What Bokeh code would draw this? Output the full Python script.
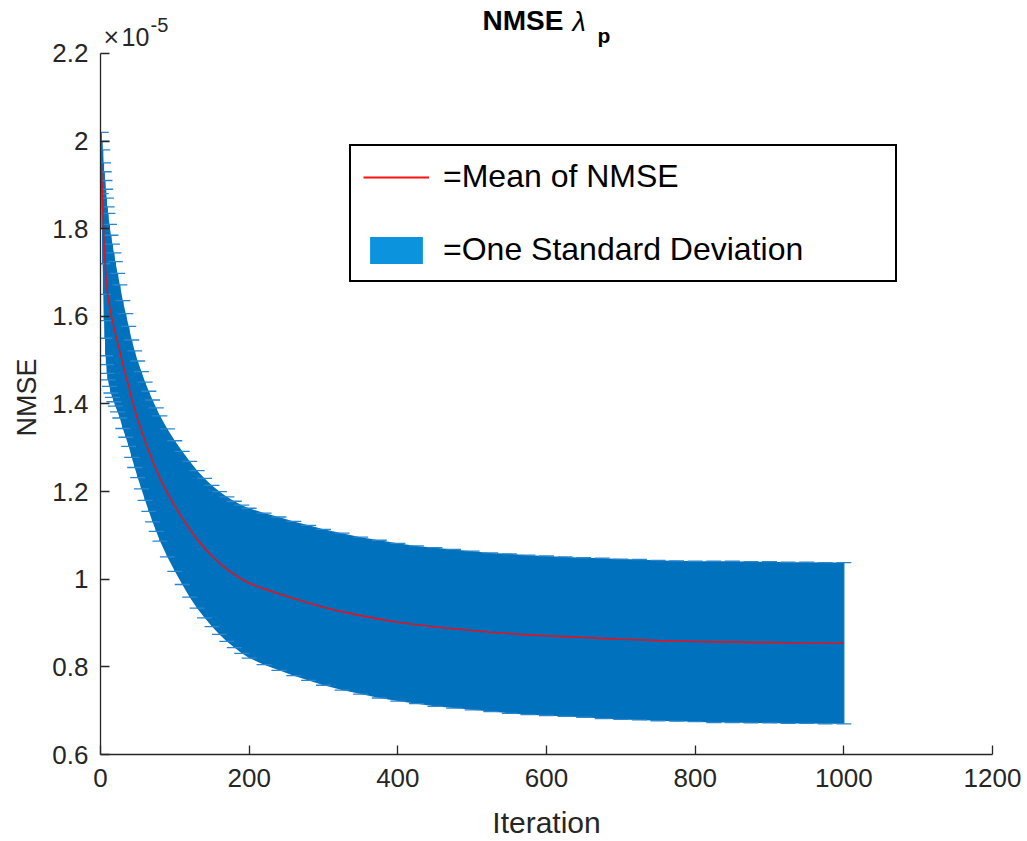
from bokeh.plotting import figure
from bokeh.models import Range1d, FixedTicker, NumeralTickFormatter, Label, Legend, LegendItem, Title
from bokeh.core.properties import value
from bokeh.embed import file_html
from bokeh.resources import INLINE

# ---- data (NMSE in units of 1e-5) ----
iterations = [1, 2, 3, 4, 5, 6, 7, 8, 9, 10, 12, 14, 16, 18, 20, 23, 26, 30, 34, 38,
              42, 46, 50, 55, 60, 65, 70, 75, 80, 90, 100, 110, 120, 130, 140, 150,
              160, 170, 180, 190, 200, 220, 240, 260, 280, 300, 325, 350, 375, 400,
              425, 450, 475, 500, 525, 550, 575, 600, 625, 650, 675, 700, 725, 750,
              775, 800, 825, 850, 875, 900, 925, 950, 975, 1000]
mean_nmse_e5 = [1.95, 1.90, 1.85, 1.80, 1.76, 1.73, 1.70, 1.68, 1.66, 1.645, 1.625, 1.605,
                1.59, 1.575, 1.56, 1.54, 1.52, 1.49, 1.465, 1.44, 1.412, 1.388, 1.365, 1.34,
                1.315, 1.292, 1.27, 1.25, 1.23, 1.197, 1.167, 1.14, 1.114, 1.091, 1.071, 1.053,
                1.037, 1.023, 1.011, 1.0, 0.991, 0.978, 0.967, 0.956, 0.946, 0.936, 0.926,
                0.917, 0.909, 0.902, 0.896, 0.891, 0.887, 0.883, 0.879, 0.876, 0.873, 0.871,
                0.869, 0.867, 0.865, 0.863, 0.862, 0.860, 0.859, 0.858, 0.857, 0.857, 0.856,
                0.856, 0.855, 0.855, 0.854, 0.854]
std_nmse_e5 = [0.07, 0.10, 0.13, 0.15, 0.17, 0.18, 0.19, 0.19, 0.19, 0.19, 0.185, 0.18,
               0.175, 0.17, 0.165, 0.158, 0.152, 0.146, 0.141, 0.137, 0.134, 0.133, 0.133,
               0.134, 0.135, 0.137, 0.139, 0.141, 0.143, 0.146, 0.149, 0.152, 0.155, 0.157,
               0.159, 0.161, 0.163, 0.165, 0.167, 0.169, 0.171, 0.173, 0.175, 0.176, 0.177,
               0.178, 0.179, 0.179, 0.180, 0.180, 0.180, 0.181, 0.181, 0.181, 0.181, 0.182,
               0.182, 0.182, 0.182, 0.182, 0.183, 0.183, 0.183, 0.183, 0.183, 0.183, 0.184,
               0.184, 0.184, 0.184, 0.184, 0.184, 0.184, 0.184]
x_ticks = [0, 200, 400, 600, 800, 1000, 1200]
y_ticks = [0.6, 0.8, 1.0, 1.2, 1.4, 1.6, 1.8, 2.0, 2.2]
legend_labels = ["=Mean of NMSE", "=One Standard Deviation"]

lower = [m - s for m, s in zip(mean_nmse_e5, std_nmse_e5)]
upper = [m + s for m, s in zip(mean_nmse_e5, std_nmse_e5)]

FONT = "Liberation Sans"
AX = "#262626"
BLUE = "#0072BD"

# layout (pixels)
W, H = 1027, 841
F_LEFT, F_RIGHT, F_BOTTOM = 100, 992, 755
X0, X1 = x_ticks[0], x_ticks[-1]
Y0, Y1 = y_ticks[0], y_ticks[-1]
PX_PER_Y = 438.75                       # axis 0.6 -> 2.2 spans 702 px
y_top = Y0 + F_BOTTOM / PX_PER_Y        # frame reaches the top edge (room for title)

p = figure(width=W, height=H, output_backend="svg", toolbar_location=None,
           title_location=None,
           x_range=Range1d(X0, X1), y_range=Range1d(Y0, y_top),
           min_border_left=F_LEFT, min_border_right=W - F_RIGHT,
           min_border_top=0, min_border_bottom=H - F_BOTTOM)
p.outline_line_color = None
p.xgrid.visible = False
p.ygrid.visible = False
p.background_fill_color = "white"

band = p.varea(x=iterations, y1=lower, y2=upper, fill_color=BLUE, fill_alpha=1.0)
p.segment(x0=iterations, y0=lower, x1=iterations, y1=upper, line_color=BLUE, line_width=1.2)
p.scatter(x=iterations, y=upper, marker="dash", size=15, line_color="#2A86CC", line_width=1.3)
p.scatter(x=iterations, y=lower, marker="dash", size=15, line_color="#2A86CC", line_width=1.3)
mean_line = p.line(x=iterations, y=mean_nmse_e5, line_color="#E8101A", line_width=1.6)

# legend proxies (style only, nothing drawn in the plot)
nan = float("nan")
swatch = p.varea(x=[nan], y1=[nan], y2=[nan], fill_color="#0B93DE")
swatch_line = p.line(x=[nan], y=[nan], line_color="#FF1010", line_width=2)

legend = Legend(items=[LegendItem(label=legend_labels[0], renderers=[swatch_line]),
                       LegendItem(label=legend_labels[1], renderers=[swatch])],
                location=(249, 472), orientation="vertical",
                label_text_font=FONT, label_text_font_size="32px", label_text_color="black",
                glyph_width=66, glyph_height=34, label_standoff=14, label_width=440,
                label_height=32, spacing=36, padding=12, margin=0,
                border_line_color="black", border_line_width=2, border_line_alpha=1.0,
                background_fill_color="white", background_fill_alpha=1.0)
p.add_layout(legend, "center")

for ax in (p.xaxis[0], p.yaxis[0]):
    ax.axis_line_color = AX
    ax.axis_line_width = 1.3
    ax.major_tick_line_color = AX
    ax.major_tick_line_width = 1.3
    ax.major_tick_in = 9
    ax.major_tick_out = 0
    ax.minor_tick_line_color = None
    ax.major_label_text_font = FONT
    ax.major_label_text_font_size = "26px"
    ax.major_label_text_color = AX
    ax.axis_label_text_font = FONT
    ax.axis_label_text_font_style = "normal"
    ax.axis_label_text_color = AX

p.xaxis.bounds = (X0, X1)
p.yaxis.bounds = (Y0, Y1)
p.xaxis.ticker = FixedTicker(ticks=x_ticks)
p.yaxis.ticker = FixedTicker(ticks=y_ticks)
p.yaxis.formatter = NumeralTickFormatter(format="0.[0]")
p.xaxis.axis_label = "Iteration"
p.xaxis.axis_label_text_font_size = "30px"
p.xaxis.major_label_standoff = 14
p.xaxis.axis_label_standoff = 16
p.yaxis.major_label_standoff = 12

# y-axis label as a side title, shifted so it sits at the centre of the 0.6-2.2 axis
p.add_layout(Title(text="NMSE", align="left", offset=318, standoff=15,
                   text_font=FONT, text_font_size="27px", text_font_style="normal",
                   text_color=AX), "left")

def xd(px):
    return X0 + (px - F_LEFT) * (X1 - X0) / (F_RIGHT - F_LEFT)

def yd(py):
    return Y0 + (F_BOTTOM - py) / PX_PER_Y

# exponent marker  x10^-5
p.add_layout(Label(x=xd(102), y=yd(37), text="\u00d7", text_font="DejaVu Sans", text_font_size="21px",
                   text_color=AX, text_baseline="alphabetic", text_align="left"))
p.add_layout(Label(x=xd(121), y=yd(37), text="10", text_font=FONT, text_font_size="25px",
                   text_color=AX, text_baseline="alphabetic", text_align="left"))
p.add_layout(Label(x=xd(150), y=yd(25), text="-5", text_font=FONT, text_font_size="20px",
                   text_color=AX, text_baseline="alphabetic", text_align="left"))

# title: NMSE lambda_p
p.add_layout(Label(x=xd(482), y=yd(20), text="NMSE", text_font=FONT, text_font_size="28px",
                   text_font_style="bold", text_color="black", text_baseline="alphabetic"))
p.add_layout(Label(x=xd(572), y=yd(22), text="\u03bb", text_font=FONT, text_font_size="27px",
                   text_font_style="italic", text_color="black", text_baseline="alphabetic"))
p.add_layout(Label(x=xd(597), y=yd(35), text="p", text_font=FONT, text_font_size="21px",
                   text_font_style="bold", text_color="black", text_baseline="alphabetic"))

open("out.html", "w").write(file_html(p, INLINE))
